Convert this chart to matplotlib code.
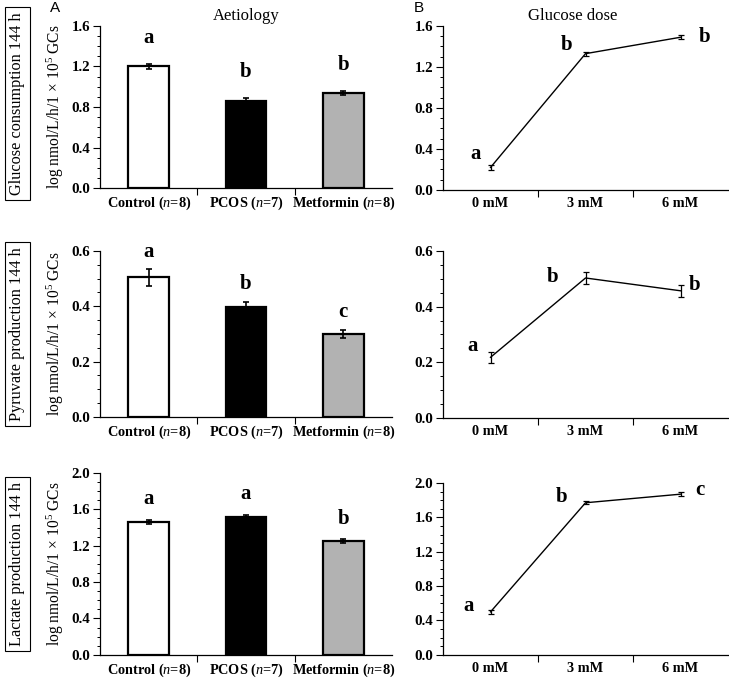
import numpy as np
import matplotlib
matplotlib.use("Agg")
import matplotlib.pyplot as plt
from matplotlib.ticker import MultipleLocator

plt.rcParams['font.family'] = ['Liberation Serif', 'DejaVu Serif']
plt.rcParams['mathtext.fontset'] = 'custom'
plt.rcParams['mathtext.rm'] = 'Liberation Serif'
plt.rcParams['mathtext.it'] = 'Liberation Serif:italic'
plt.rcParams['mathtext.bf'] = 'Liberation Serif:bold'

# ---- data ----
groups = ["Control ($\\mathbf{\\it{n}}$=8)", "PCOS ($\\mathbf{\\it{n}}$=7)",
          "Metformin ($\\mathbf{\\it{n}}$=8)"]
doses = ["0 mM", "3 mM", "6 mM"]
row_names = ["Glucose consumption 144 h", "Pyruvate production 144 h", "Lactate production 144 h"]

glu_grp = [1.20, 0.86, 0.935]
glu_grp_err = [0.02, 0.025, 0.02]
glu_dose = [0.22, 1.33, 1.49]
glu_dose_err = [0.025, 0.02, 0.02]

pyr_grp = [0.505, 0.397, 0.300]
pyr_grp_err = [0.030, 0.020, 0.015]
pyr_dose = [0.218, 0.503, 0.457]
pyr_dose_err = [0.020, 0.022, 0.022]

lac_grp = [1.46, 1.52, 1.25]
lac_grp_err = [0.02, 0.02, 0.02]
lac_dose = [0.50, 1.77, 1.87]
lac_dose_err = [0.025, 0.02, 0.02]

glu_grp_sig = ["a", "b", "b"]
glu_dose_sig = ["a", "b", "b"]
pyr_grp_sig = ["a", "b", "c"]
pyr_dose_sig = ["a", "b", "b"]
lac_grp_sig = ["a", "a", "b"]
lac_dose_sig = ["a", "b", "c"]

bar_colors = ["white", "black", "#b2b2b2"]

fig = plt.figure(figsize=(7.29, 6.80), dpi=100)

# axes rectangles in figure fraction
left_pos = [[0.1372, 0.7235, 0.4005, 0.2383],
            [0.1372, 0.3868, 0.4005, 0.2441],
            [0.1372, 0.0370, 0.4005, 0.2674]]
right_pos = [[0.6077, 0.7206, 0.3910, 0.2412],
             [0.6077, 0.3853, 0.3910, 0.2456],
             [0.6077, 0.0370, 0.3910, 0.2527]]
ylims = [(1.6, 0.4, 0.1), (0.6, 0.2, 0.05), (2.0, 0.4, 0.1)]
bar_txt_off = [19, 12.5, 15]
# offsets (points) of the letters beside the line points
dose_txt_off = [[(-11, 10), (-14, 6), (17, 0)],
                [(-13, 8), (-24, 1), (10, 4)],
                [(-16, 4), (-17, 4), (14, 3)]]

grp_data = [(glu_grp, glu_grp_err, glu_grp_sig),
            (pyr_grp, pyr_grp_err, pyr_grp_sig),
            (lac_grp, lac_grp_err, lac_grp_sig)]
dose_data = [(glu_dose, glu_dose_err, glu_dose_sig),
             (pyr_dose, pyr_dose_err, pyr_dose_sig),
             (lac_dose, lac_dose_err, lac_dose_sig)]


def style_axes(ax, ymax, major, minor, labels):
    ax.set_xlim(-0.5, 2.5)
    ax.set_ylim(0, ymax)
    ax.spines['top'].set_visible(False)
    ax.spines['right'].set_visible(False)
    for s in ['left', 'bottom']:
        ax.spines[s].set_linewidth(0.9)
    ax.yaxis.set_major_locator(MultipleLocator(major))
    ax.yaxis.set_minor_locator(MultipleLocator(minor))
    ax.yaxis.set_major_formatter(plt.FormatStrFormatter('%.1f'))
    ax.tick_params(axis='y', which='major', direction='out', length=5, width=0.8, pad=2,
                   labelsize=10.8)
    ax.tick_params(axis='y', which='minor', direction='out', length=2.5, width=0.7)
    ax.set_xticks(range(3))
    ax.set_xticklabels(labels)
    ax.set_xticks([0.5, 1.5], minor=True)
    ax.tick_params(axis='x', which='major', length=0, pad=5, labelsize=10.3)
    ax.tick_params(axis='x', which='minor', direction='out', length=5, width=0.8)
    for t in ax.get_xticklabels() + ax.get_yticklabels():
        t.set_fontweight('bold')


for i in range(3):
    ymax, major, minor = ylims[i]
    vals, errs, sig = grp_data[i]
    ax = fig.add_axes(left_pos[i])
    x = np.arange(3)
    ax.bar(x, vals, width=0.42, color=bar_colors, edgecolor='black', linewidth=1.6, zorder=2)
    ax.errorbar(x, vals, yerr=errs, fmt='none', ecolor='black', elinewidth=1.2,
                capsize=2.5, capthick=1.2, zorder=3)
    for xi, v, e, s in zip(x, vals, errs, sig):
        ax.annotate(s, (xi, v + e), xytext=(0, bar_txt_off[i]), textcoords='offset points',
                    ha='center', va='center', fontsize=15, fontweight='bold')
    style_axes(ax, ymax, major, minor, groups)
    ax.set_ylabel("log nmol/L/h/1$\\,\\times\\,$10$^{5}$ GCs", fontsize=11.2, labelpad=4)

    # boxed row label
    fig.text(0.024, left_pos[i][1] + left_pos[i][3] / 2 + (0.005 if i == 0 else 0),
             row_names[i], rotation=90, ha='center', va='center', fontsize=11.7,
             bbox=dict(boxstyle='square,pad=0.3', facecolor='white', edgecolor='black',
                       linewidth=0.8))

    vals, errs, sig = dose_data[i]
    ax2 = fig.add_axes(right_pos[i])
    ax2.plot(x, vals, color='black', linewidth=1.0, zorder=2)
    ax2.errorbar(x, vals, yerr=errs, fmt='none', ecolor='black', elinewidth=0.9,
                 capsize=2.5, capthick=0.9, zorder=3)
    for xi, v, s, off in zip(x, vals, sig, dose_txt_off[i]):
        ax2.annotate(s, (xi, v), xytext=off, textcoords='offset points',
                     ha='center', va='center', fontsize=15, fontweight='bold')
    style_axes(ax2, ymax, major, minor, doses)

fig.text(0.338, 0.977, "Aetiology", ha='center', va='center', fontsize=12)
fig.text(0.785, 0.977, "Glucose dose", ha='center', va='center', fontsize=12)
fig.text(0.075, 0.988, "A", ha='center', va='center', fontsize=11, family='Liberation Sans')
fig.text(0.574, 0.988, "B", ha='center', va='center', fontsize=11, family='Liberation Sans')

fig.savefig("out.png", dpi=100)
